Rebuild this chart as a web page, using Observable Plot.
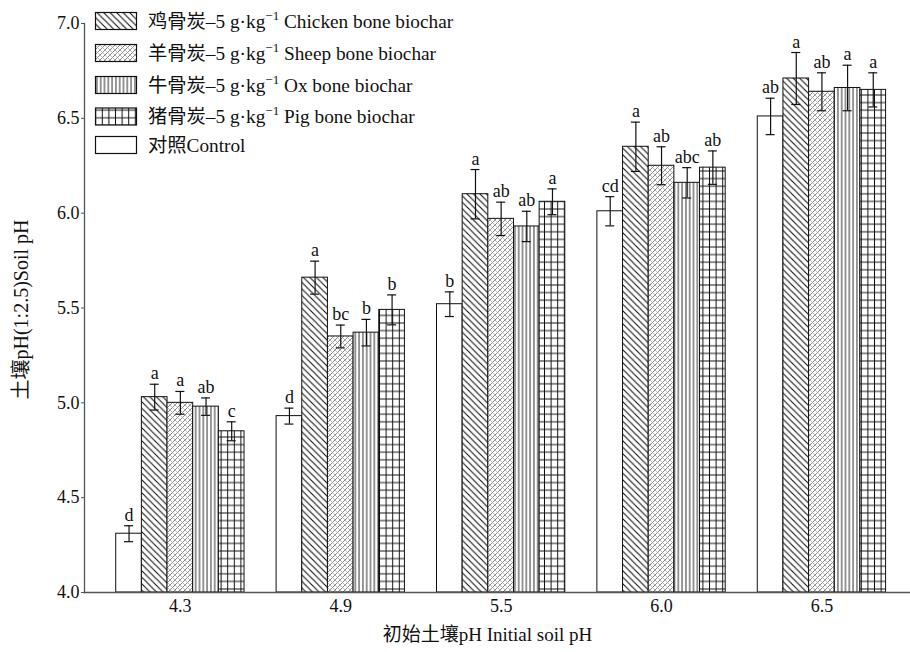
<!DOCTYPE html>
<html>
<head>
<meta charset="utf-8">
<script src="https://cdn.jsdelivr.net/npm/d3@7"></script>
<script src="https://cdn.jsdelivr.net/npm/@observablehq/plot@0.6"></script>
<style>
  html, body { margin: 0; padding: 0; background: #fff; }
  #wrap { position: relative; width: 910px; height: 652px; }
  #legend { position: absolute; left: 0; top: 0; pointer-events: none; }
  #defs { position: absolute; width: 0; height: 0; }
  text { font-family: "Liberation Serif", "Noto Sans CJK SC", serif; }
</style>
</head>
<body>
<svg id="defs" width="0" height="0" aria-hidden="true">
  <defs>
    <pattern id="pat-chicken" patternUnits="userSpaceOnUse" width="6.5" height="6.5">
      <rect width="6.5" height="6.5" fill="#fff"/>
      <path d="M-1,-1 L7.5,7.5 M-1,5.5 L1,7.5 M5.5,-1 L7.5,1" stroke="#111" stroke-width="1.1"/>
    </pattern>
    <pattern id="pat-sheep" patternUnits="userSpaceOnUse" width="5" height="5">
      <rect width="5" height="5" fill="#fff"/>
      <path d="M-1,6 L6,-1 M-1,1 L1,-1 M4,6 L6,4" stroke="#7a7a7a" stroke-width="0.9"/>
      <path d="M-1,-1 L6,6 M-1,4 L1,6 M4,-1 L6,1" stroke="#a0a0a0" stroke-width="0.7"/>
    </pattern>
    <pattern id="pat-ox" patternUnits="userSpaceOnUse" width="3.8" height="10">
      <rect width="3.8" height="10" fill="#fff"/>
      <path d="M1.9,0 L1.9,10" stroke="#111" stroke-width="0.9"/>
    </pattern>
    <pattern id="pat-pig" patternUnits="userSpaceOnUse" width="6.6" height="7.6">
      <rect width="6.6" height="7.6" fill="#fff"/>
      <path d="M3.3,0 L3.3,7.6 M0,3.8 L6.6,3.8" stroke="#111" stroke-width="1"/>
    </pattern>
  </defs>
</svg>
<div id="wrap"></div>
<script>
// Initial soil pH groups along the x axis
const groups = ["4.3", "4.9", "5.5", "6.0", "6.5"];

// Treatments, in the order the bars are drawn inside each group
const seriesKeys = ["control", "chicken", "sheep", "ox", "pig"];
const seriesLabels = {
  chicken: ["鸡骨炭–5 g·kg", "−1", " Chicken bone biochar"],
  sheep:   ["羊骨炭–5 g·kg", "−1", " Sheep bone biochar"],
  ox:      ["牛骨炭–5 g·kg", "−1", " Ox bone biochar"],
  pig:     ["猪骨炭–5 g·kg", "−1", " Pig bone biochar"],
  control: ["对照Control", "", ""]
};
const legendOrder = ["chicken", "sheep", "ox", "pig", "control"];

// Mean soil pH per treatment
const controlPH = [4.31, 4.93, 5.52, 6.01, 6.51];
const chickenPH = [5.03, 5.66, 6.10, 6.35, 6.71];
const sheepPH   = [5.00, 5.35, 5.97, 6.25, 6.64];
const oxPH      = [4.98, 5.37, 5.93, 6.16, 6.66];
const pigPH     = [4.85, 5.49, 6.06, 6.24, 6.65];

// Standard errors
const controlErr = [0.042, 0.042, 0.065, 0.077, 0.096];
const chickenErr = [0.068, 0.087, 0.130, 0.130, 0.137];
const sheepErr   = [0.060, 0.060, 0.088, 0.100, 0.100];
const oxErr      = [0.046, 0.070, 0.080, 0.080, 0.120];
const pigErr     = [0.050, 0.079, 0.068, 0.088, 0.090];

// Significance letters
const controlSig = ["d", "d", "b", "cd", "ab"];
const chickenSig = ["a", "a", "a", "a", "a"];
const sheepSig   = ["a", "bc", "ab", "ab", "ab"];
const oxSig      = ["ab", "b", "ab", "abc", "a"];
const pigSig     = ["c", "b", "a", "ab", "a"];

// Axis ticks and titles
const yTicks = [4.0, 4.5, 5.0, 5.5, 6.0, 6.5, 7.0];
const yTitle = "土壤pH(1:2.5)Soil pH";
const xTitle = "初始土壤pH Initial soil pH";

const values = {control: controlPH, chicken: chickenPH, sheep: sheepPH, ox: oxPH, pig: pigPH};
const errors = {control: controlErr, chicken: chickenErr, sheep: sheepErr, ox: oxErr, pig: pigErr};
const letters = {control: controlSig, chicken: chickenSig, sheep: sheepSig, ox: oxSig, pig: pigSig};

const rows = seriesKeys.flatMap((s, i) => groups.map((g, j) => ({
  group: g, series: s, i, value: values[s][j], err: errors[s][j], letter: letters[s][j]
})));

// Layout
const width = 910, height = 652;
const margin = {top: 23, right: 0, bottom: 60, left: 84};
const band = {paddingInner: 0.2, paddingOuter: 0.175, align: 0.565};
const bandwidth = d3.scaleBand().domain(groups)
  .range([margin.left, width - margin.right])
  .paddingInner(band.paddingInner).paddingOuter(band.paddingOuter).align(band.align)
  .bandwidth();
const n = seriesKeys.length;
const w = bandwidth / n;     // width of one bar
const cap = 4.5;             // half-width of an error-bar cap
const fontSize = 18;
const legendSize = 19.3;

const marks = [];
seriesKeys.forEach((s, i) => {
  const data = rows.filter(d => d.series === s);
  const off = (i - (n - 1) / 2) * w;
  const capInset = {insetLeft: (i + 0.5) * w - cap, insetRight: bandwidth - (i + 0.5) * w - cap};
  marks.push(
    Plot.barY(data, {
      x: "group", y1: 4, y2: "value",
      fill: `url(#pat-${s})`, stroke: "#111", strokeWidth: 1,
      insetLeft: i * w, insetRight: (n - 1 - i) * w
    }),
    Plot.ruleX(data, {
      x: "group", y1: d => d.value - d.err, y2: d => d.value + d.err,
      dx: off, stroke: "#111", strokeWidth: 1.2
    }),
    Plot.tickY(data, {x: "group", y: d => d.value + d.err, stroke: "#111", strokeWidth: 1.2, ...capInset}),
    Plot.tickY(data, {x: "group", y: d => d.value - d.err, stroke: "#111", strokeWidth: 1.2, ...capInset}),
    Plot.text(data, {
      x: "group", y: d => d.value + d.err, text: "letter",
      dx: off, dy: -5, lineAnchor: "bottom", fontSize, fill: "#111"
    })
  );
});

const chart = Plot.plot({
  width, height,
  marginTop: margin.top, marginRight: margin.right,
  marginBottom: margin.bottom, marginLeft: margin.left,
  style: {fontFamily: '"Liberation Serif", "Noto Sans CJK SC", serif', fontSize: `${fontSize}px`, color: "#111", background: "#fff"},
  x: {type: "band", domain: groups, round: false, ...band},
  y: {domain: [4, 7]},
  marks: [
    Plot.axisY({
      ticks: yTicks, tickFormat: d => d.toFixed(1), tickSize: 3, tickPadding: 2, fontSize,
      stroke: "#555", label: null
    }),
    Plot.axisX({tickSize: 0, tickPadding: 7, fontSize, label: null}),
    Plot.text([yTitle], {
      text: d => d, frameAnchor: "left", dx: -63, dy: 1.5, rotate: -90,
      textAnchor: "middle", lineAnchor: "middle", fontSize: 20, fill: "#111"
    }),
    Plot.text([xTitle], {
      text: d => d, frameAnchor: "bottom", dx: -10, dy: 42,
      textAnchor: "middle", lineAnchor: "middle", fontSize: 19, fill: "#111"
    }),
    ...marks,
    Plot.frame({anchor: "left", stroke: "#555", strokeWidth: 1.3}),
    Plot.ruleY([4], {stroke: "#555", strokeWidth: 1.3})
  ]
});

const wrap = document.getElementById("wrap");
wrap.appendChild(chart);

// Legend drawn over the upper-left of the plot area
const legend = d3.select(wrap).append("svg")
  .attr("id", "legend").attr("width", 520).attr("height", 165);
const rowY = [21, 53, 85, 116.5, 145];
legendOrder.forEach((s, k) => {
  const y = rowY[k];
  legend.append("rect")
    .attr("x", 95.5).attr("y", y - 8.5).attr("width", 41).attr("height", 17)
    .attr("fill", `url(#pat-${s})`).attr("stroke", "#111").attr("stroke-width", 1.2);
  const t = legend.append("text")
    .attr("x", 148).attr("y", y).attr("dy", "0.35em")
    .attr("font-size", legendSize).attr("fill", "#111");
  const [a, sup, b] = seriesLabels[s];
  t.append("tspan").text(a);
  if (sup) {
    t.append("tspan").attr("dy", -8).attr("font-size", 13).text(sup);
    t.append("tspan").attr("dy", 8).attr("font-size", legendSize).text(b);
  }
});
</script>
</body>
</html>
